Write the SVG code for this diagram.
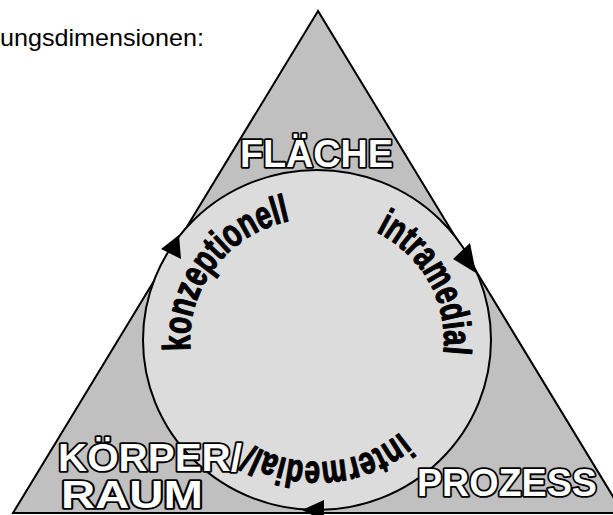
<svg xmlns="http://www.w3.org/2000/svg" xmlns:xlink="http://www.w3.org/1999/xlink" width="613" height="515" viewBox="0 0 613 515">
<style>
.tri{fill:#c0c0c0;stroke:#000;stroke-width:2;stroke-linejoin:miter}
.ring{fill:#dcdcdc;stroke:#000;stroke-width:2}
.head{fill:#000;stroke:none}
.outl{font-family:"Liberation Sans",Arial,sans-serif;font-weight:bold;font-size:38px;fill:#fff;stroke:#000;stroke-width:3.6px;stroke-linejoin:round;paint-order:stroke}
.arc{font-family:"Liberation Sans",Arial,sans-serif;font-weight:bold;font-size:39px;fill:#000;stroke:#000;stroke-width:1.2px;stroke-linejoin:round}
.hdr{font-family:"Liberation Sans",Arial,sans-serif;font-size:24px;fill:#000}
</style>
<defs>
<path id="ringpath" d="M 317,218 A 127 122 0 1 1 317,462 A 127 122 0 1 1 317,218" fill="none"/>
</defs>
<rect x="0" y="0" width="613" height="515" fill="#fff"/>
<text class="hdr" x="0" y="46" textLength="204" lengthAdjust="spacingAndGlyphs">ungsdimensionen:</text>
<g id="triangle">
<polygon class="tri" points="318,11 13,513 623,513"/>
</g>
<g id="cycle">
<ellipse class="ring" cx="317" cy="340" rx="174" ry="170"/>
</g>
<g id="connectors">
<polygon class="head" points="179,235 161,249 181,259"/>
<polygon class="head" points="476,273 453,259 470,243"/>
<polygon class="head" points="302,510 324,500 324,521"/>
</g>
<g id="cycle-labels">
<text class="arc"><textPath xlink:href="#ringpath" href="#ringpath" startOffset="61" textLength="148" lengthAdjust="spacingAndGlyphs">intramedial</textPath></text>
<text class="arc"><textPath xlink:href="#ringpath" href="#ringpath" startOffset="301" textLength="159" lengthAdjust="spacingAndGlyphs">intermedial/</textPath></text>
<text class="arc"><textPath xlink:href="#ringpath" href="#ringpath" startOffset="576" textLength="179" lengthAdjust="spacingAndGlyphs">konzeptionell</textPath></text>
</g>
<g id="flaeche">
<text class="outl" x="240" y="167" textLength="153" lengthAdjust="spacingAndGlyphs">FLÄCHE</text>
</g>
<g id="koerper-raum">
<text class="outl" x="58" y="471" textLength="184" lengthAdjust="spacingAndGlyphs">KÖRPER/</text>
<text class="outl" x="61" y="508" textLength="142" lengthAdjust="spacingAndGlyphs">RAUM</text>
</g>
<g id="prozess">
<text class="outl" x="417" y="496" textLength="180" lengthAdjust="spacingAndGlyphs">PROZESS</text>
</g>
</svg>
